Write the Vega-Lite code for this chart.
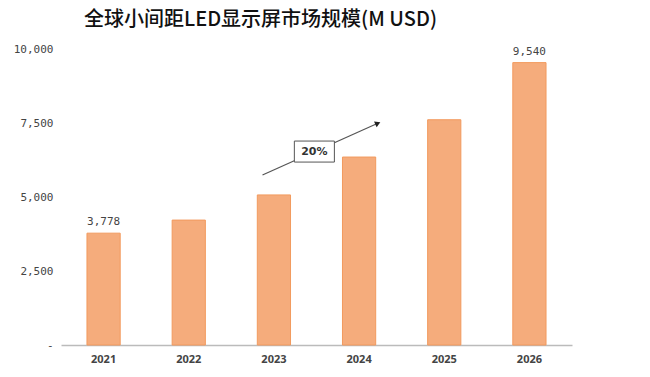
{
  "$schema": "https://vega.github.io/schema/vega-lite/v6.json",
  "autosize": {"type": "none"},
  "width": 511,
  "height": 296,
  "padding": {"left": 61, "top": 49, "right": 78, "bottom": 32},
  "background": "white",
  "title": {
    "text": "全球小间距LED显示屏市场规模(M USD)",
    "font": "Noto Sans CJK SC",
    "fontSize": 20,
    "fontWeight": 500,
    "color": "#111111",
    "anchor": "middle",
    "dx": -56,
    "offset": 13
  },
  "datasets": {
    "bars": [
      {"year": "2021", "value": 3778},
      {"year": "2022", "value": 4220},
      {"year": "2023", "value": 5070},
      {"year": "2024", "value": 6350},
      {"year": "2025", "value": 7610},
      {"year": "2026", "value": 9540}
    ],
    "arrow": [
      {"xs": 2.366, "ys": 5743, "xe": 3.72, "ye": 7490, "bx0": 2.74, "bx1": 3.21, "by0": 6180, "by1": 6890, "tx": 2.975, "ty": 6535, "label": "20%"}
    ]
  },
  "config": {"view": {"stroke": null}},
  "layer": [
    {
      "data": {"name": "bars"},
      "encoding": {
        "x": {
          "field": "year", "type": "nominal",
          "scale": {"paddingInner": 0.61, "paddingOuter": 0.305},
          "axis": {"title": null, "labelAngle": 0, "ticks": false, "domainColor": "#bbbbbb", "domainWidth": 1.5, "labelFont": "Noto Sans", "labelFontSize": 11, "labelFontWeight": "bold", "labelColor": "#444444", "labelPadding": 8}
        },
        "y": {
          "field": "value", "type": "quantitative",
          "scale": {"domain": [0, 10000], "nice": false},
          "axis": {"title": null, "values": [0, 2500, 5000, 7500, 10000], "grid": false, "domain": false, "ticks": false, "labelFont": "DejaVu Sans Mono", "labelFontSize": 11, "labelColor": "#444444", "labelPadding": 8,
            "labelExpr": "datum.value == 0 ? '-' : format(datum.value, ',')"}
        }
      },
      "layer": [
        {
          "mark": {"type": "bar", "fill": "#F5AC7C", "stroke": "#F29A5E", "strokeWidth": 1}
        },
        {
          "transform": [{"filter": "datum.year == '2021' || datum.year == '2026'"}],
          "mark": {"type": "text", "baseline": "bottom", "dy": -6, "font": "DejaVu Sans Mono", "fontSize": 11, "color": "#444444"},
          "encoding": {
            "text": {"field": "value", "type": "quantitative", "format": ","}
          }
        }
      ]
    },
    {
      "data": {"name": "arrow"},
      "layer": [
        {
          "mark": {"type": "rule", "color": "#555555", "strokeWidth": 1.2},
          "encoding": {
            "x": {"field": "xs", "type": "quantitative", "scale": {"domain": [0, 6], "nice": false}, "axis": null},
            "x2": {"field": "xe"},
            "y": {"field": "ys", "type": "quantitative"},
            "y2": {"field": "ye"}
          }
        },
        {
          "mark": {"type": "point", "shape": "triangle-up", "filled": true, "color": "#222222", "size": 40, "angle": 66, "opacity": 1},
          "encoding": {
            "x": {"field": "xe", "type": "quantitative", "scale": {"domain": [0, 6], "nice": false}, "axis": null},
            "y": {"field": "ye", "type": "quantitative"}
          }
        },
        {
          "mark": {"type": "rect", "fill": "white", "stroke": "#555555", "strokeWidth": 1},
          "encoding": {
            "x": {"field": "bx0", "type": "quantitative", "scale": {"domain": [0, 6], "nice": false}, "axis": null},
            "x2": {"field": "bx1"},
            "y": {"field": "by0", "type": "quantitative"},
            "y2": {"field": "by1"}
          }
        },
        {
          "mark": {"type": "text", "font": "DejaVu Sans", "fontSize": 11, "fontWeight": "bold", "color": "#333333", "baseline": "middle", "align": "center"},
          "encoding": {
            "x": {"field": "tx", "type": "quantitative", "scale": {"domain": [0, 6], "nice": false}, "axis": null},
            "y": {"field": "ty", "type": "quantitative"},
            "text": {"field": "label"}
          }
        }
      ]
    }
  ],
  "resolve": {"scale": {"x": "independent"}}
}
